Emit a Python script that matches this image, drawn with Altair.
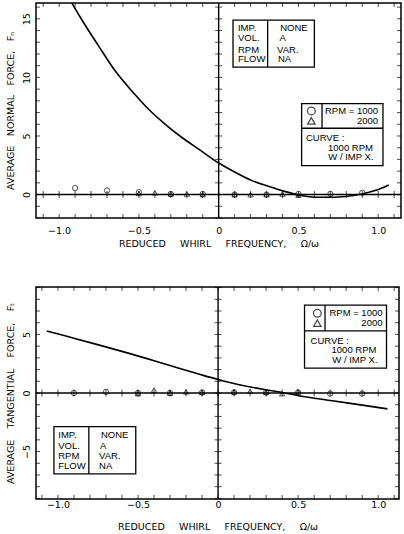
import altair as alt
import pandas as pd

# ---------------- data ----------------
x_circle = [-0.9, -0.7, -0.5, -0.3, -0.1, 0.1, 0.3, 0.5, 0.7, 0.9]
x_triangle = [-0.5, -0.4, -0.3, -0.2, -0.1, 0.1, 0.2, 0.3, 0.4, 0.5]

fn_circle = [0.55, 0.35, 0.2, 0.05, 0.05, 0.0, 0.0, 0.05, 0.05, 0.15]
fn_triangle = [0.1, 0.15, 0.05, 0.05, 0.0, 0.0, 0.0, 0.0, 0.05, -0.05]
ft_circle = [0.0, 0.1, 0.0, 0.0, 0.05, 0.05, 0.05, 0.05, -0.05, -0.05]
ft_triangle = [-0.05, 0.25, 0.0, 0.1, 0.05, 0.1, 0.15, 0.05, -0.05, 0.1]

fn_curve_x = [-0.92, -0.857, -0.752, -0.648, -0.544, -0.439, -0.335, -0.23, -0.125,
              0.0, 0.104, 0.209, 0.313, 0.418, 0.5, 0.627, 0.731, 0.836, 0.898, 0.98, 1.066]
fn_curve_y = [16.35, 14.9, 12.67, 10.54, 8.84, 7.28, 6.0, 4.87, 3.88,
              2.69, 1.9, 1.19, 0.7, 0.25, -0.03, -0.23, -0.23, -0.09, 0.05, 0.34, 0.82]

ft_curve_x = [-1.07, -0.956, -0.747, -0.539, -0.33, -0.121, 0.0, 0.086, 0.296, 0.4,
              0.505, 0.714, 0.922, 1.058]
ft_curve_y = [5.3, 4.88, 4.11, 3.32, 2.47, 1.62, 1.15, 0.85, 0.28, 0.05,
              -0.23, -0.66, -1.08, -1.36]

x_labels = [-1.0, -0.5, 0.0, 0.5, 1.0]
fn_labels = [0, 5, 10, 15]
ft_labels = [-5, 0, 5]
x_minor = [round(i * 0.1, 1) for i in range(-11, 12)]
fn_minor = list(range(-2, 17))
ft_minor = list(range(-9, 10))

info_keys = ["IMP.", "VOL.", "RPM", "FLOW"]
info_vals = ["NONE", "A", "VAR.", "NA"]
legend_rpm = ["RPM = 1000", "2000"]
curve_note = ["CURVE :", "1000 RPM", "W / IMP X."]

x_title = "\u2003\u2002".join(["REDUCED", "WHIRL", "FREQUENCY,", "\u03a9/\u03c9"])
fn_title = "\u2003".join(["AVERAGE", "NORMAL", "FORCE,", "F\u2099"])
ft_title = "\u2003\u2009".join(["AVERAGE", "TANGENTIAL", "FORCE,", "F\u209c"])

# ---------------- annotation layout (data units of each panel) ----------------
top_layout = dict(
    info_box=(0.09, 0.60, 14.88, 10.88), info_div=0.307,
    info_kx=0.121, info_vx=[0.386, 0.382, 0.366, 0.372], info_y=[14.23, 13.37, 12.38, 11.53],
    leg_box=(0.52, 1.03, 7.76, 2.47), leg_div=0.648, leg_h=5.66,
    sym_x=0.581, sym_y=[7.14, 6.29], rpm_x=0.999,
    curve_x=[0.547, 0.967, 0.971], curve_y=[4.86, 4.01, 3.17],
)
bot_layout = dict(
    info_box=(-1.025, -0.514, -2.87, -6.9), info_div=-0.807,
    info_kx=-0.998, info_vx=[-0.731, -0.737, -0.743, -0.743], info_y=[-3.56, -4.49, -5.34, -6.19],
    leg_box=(0.54, 1.052, 7.5, 2.13), leg_div=0.668, leg_h=5.31,
    sym_x=0.62, sym_y=[6.81, 5.96], rpm_x=1.027,
    curve_x=[0.578, 0.989, 0.996], curve_y=[4.45, 3.66, 2.81],
)

FONT_AX = "DejaVu Sans"
FONT_BOX = "Liberation Sans"


def panel(xdom, ydom, w, h, c_y, t_y, cx, cy, ylabels, yminor, ytitle,
          xlab_pad, xtitle_pad, L):
    xs = alt.Scale(domain=xdom, nice=False, zero=False)
    ys = alt.Scale(domain=ydom, nice=False, zero=False)
    xaxis = alt.Axis(values=x_labels,
                     labelExpr="datum.value == 0 ? '0' : format(datum.value, '.1f')",
                     ticks=False, domain=False, grid=False, labelOverlap=False,
                     labelFont=FONT_AX, labelFontSize=9.5, labelColor="black",
                     labelPadding=xlab_pad, labelFlush=False,
                     title=x_title, titleFont=FONT_AX, titleFontSize=9.5,
                     titleFontWeight="normal", titleColor="black", titlePadding=xtitle_pad)
    yaxis = alt.Axis(values=ylabels, ticks=False, domain=False, grid=False, labelOverlap=False,
                     labelFont=FONT_AX, labelFontSize=9.5, labelColor="black",
                     labelAngle=270, labelAlign="center", labelBaseline="bottom",
                     labelPadding=5, labelFlush=False,
                     title=ytitle, titleFont=FONT_AX, titleFontSize=9.5,
                     titleFontWeight="normal", titleColor="black", titlePadding=6)

    def X(f):
        return alt.X(f, type="quantitative", scale=xs, axis=xaxis)

    def Y(f):
        return alt.Y(f, type="quantitative", scale=ys, axis=yaxis)

    def XD(v):
        return alt.XDatum(v, type="quantitative", scale=xs, axis=xaxis)

    def YD(v):
        return alt.YDatum(v, type="quantitative", scale=ys, axis=yaxis)

    zero = pd.DataFrame({"v": [0]})
    xt = pd.DataFrame({"t": x_minor})
    yt = pd.DataFrame({"t": yminor})

    layers = []
    curve = pd.DataFrame({"x": cx, "y": cy})
    layers.append(alt.Chart(curve).mark_line(color="black", strokeWidth=1.6,
                                             interpolate="monotone", clip=True)
                  .encode(x=X("x"), y=Y("y")))
    layers.append(alt.Chart(zero).mark_rule(color="black", strokeWidth=1.4).encode(x=X("v")))
    layers.append(alt.Chart(zero).mark_rule(color="black", strokeWidth=1.4).encode(y=Y("v")))

    tick = dict(color="black", thickness=1)
    for yv in (ydom[0], ydom[1]):
        layers.append(alt.Chart(xt).mark_tick(orient="vertical", size=8, clip=True, **tick)
                      .encode(x=X("t"), y=YD(yv)))
    layers.append(alt.Chart(xt).mark_tick(orient="vertical", size=7, **tick)
                  .encode(x=X("t"), y=YD(0)))
    for xv in (xdom[0], xdom[1]):
        layers.append(alt.Chart(yt).mark_tick(orient="horizontal", size=8, clip=True, **tick)
                      .encode(y=Y("t"), x=XD(xv)))
    layers.append(alt.Chart(yt).mark_tick(orient="horizontal", size=7, **tick)
                  .encode(y=Y("t"), x=XD(0)))

    pts_c = pd.DataFrame({"x": x_circle, "y": c_y})
    pts_t = pd.DataFrame({"x": x_triangle, "y": t_y})
    layers.append(alt.Chart(pts_c).mark_point(shape="circle", filled=False, size=28,
                                              color="black", strokeWidth=1)
                  .encode(x=X("x"), y=Y("y")))
    layers.append(alt.Chart(pts_t).mark_point(shape="triangle-up", filled=False, size=28,
                                              color="black", strokeWidth=1)
                  .encode(x=X("x"), y=Y("y")))

    bx = L["info_box"]
    lb = L["leg_box"]
    boxes = pd.DataFrame({"x": [bx[0], lb[0]], "x2": [bx[1], lb[1]],
                          "y": [bx[2], lb[2]], "y2": [bx[3], lb[3]]})
    layers.append(alt.Chart(boxes).mark_rect(fill="white", stroke="black", strokeWidth=1.3)
                  .encode(x=X("x"), x2=alt.X2("x2"), y=Y("y"), y2=alt.Y2("y2")))
    divs = pd.DataFrame({"x": [L["info_div"], L["leg_div"], lb[0]],
                         "x2": [L["info_div"], L["leg_div"], lb[1]],
                         "y": [bx[2], lb[2], L["leg_h"]],
                         "y2": [bx[3], L["leg_h"], L["leg_h"]]})
    layers.append(alt.Chart(divs).mark_rule(color="black", strokeWidth=1.3)
                  .encode(x=X("x"), x2=alt.X2("x2"), y=Y("y"), y2=alt.Y2("y2")))

    txt = dict(font=FONT_BOX, fontSize=9.5, color="black", baseline="middle")
    left_t = pd.DataFrame({
        "x": [L["info_kx"]] * 4 + L["info_vx"] + [L["curve_x"][0]],
        "y": L["info_y"] + L["info_y"] + [L["curve_y"][0]],
        "s": info_keys + info_vals + [curve_note[0]],
    })
    layers.append(alt.Chart(left_t).mark_text(align="left", **txt)
                  .encode(x=X("x"), y=Y("y"), text="s:N"))
    right_t = pd.DataFrame({
        "x": [L["rpm_x"]] * 2 + L["curve_x"][1:],
        "y": L["sym_y"] + L["curve_y"][1:],
        "s": legend_rpm + curve_note[1:],
    })
    layers.append(alt.Chart(right_t).mark_text(align="right", **txt)
                  .encode(x=X("x"), y=Y("y"), text="s:N"))
    sym_c = pd.DataFrame({"x": [L["sym_x"]], "y": [L["sym_y"][0]]})
    sym_t = pd.DataFrame({"x": [L["sym_x"]], "y": [L["sym_y"][1]]})
    layers.append(alt.Chart(sym_c).mark_point(shape="circle", filled=False, size=60,
                                              color="black", strokeWidth=1.3)
                  .encode(x=X("x"), y=Y("y")))
    layers.append(alt.Chart(sym_t).mark_point(shape="triangle-up", filled=False, size=55,
                                              color="black", strokeWidth=1.3)
                  .encode(x=X("x"), y=Y("y")))

    return alt.layer(*layers).properties(width=w, height=h)


top = panel([-1.145, 1.143], [-2.0, 16.35], 365, 215, fn_circle, fn_triangle,
            fn_curve_x, fn_curve_y, fn_labels, fn_minor, fn_title, 7, 4, top_layout)
bottom = panel([-1.137, 1.13], [-9.05, 9.05], 363, 212, ft_circle, ft_triangle,
               ft_curve_x, ft_curve_y, ft_labels, ft_minor, ft_title, 0, 13, bot_layout)

chart = (alt.vconcat(top, bottom, spacing=36)
         .configure(padding={"left": 4, "top": 1, "right": 0, "bottom": 0},
                    background="white")
         .configure_view(stroke="black", strokeWidth=1.5))

chart.save("out.html", embed_options={"renderer": "svg", "actions": False})
